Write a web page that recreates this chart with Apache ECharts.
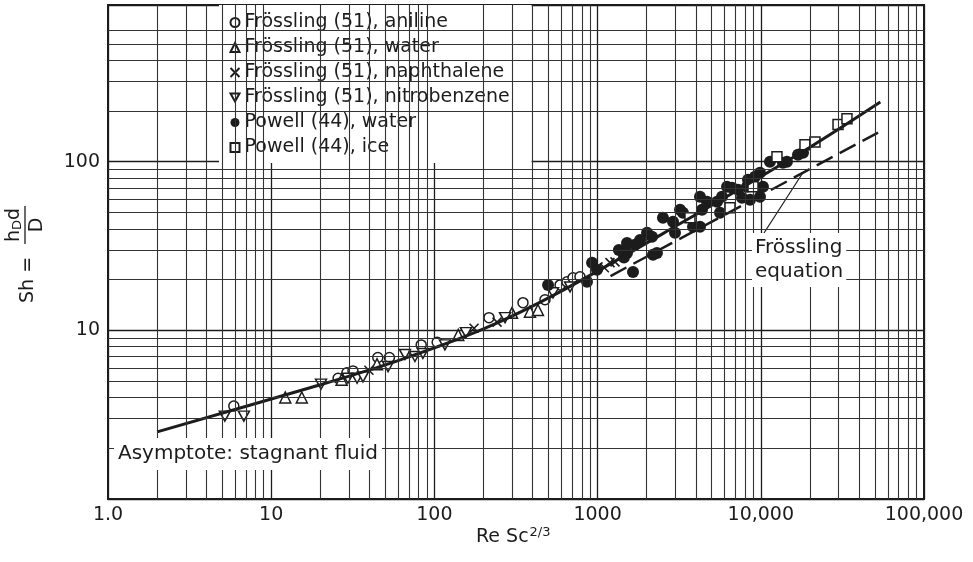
<!DOCTYPE html>
<html><head><meta charset="utf-8">
<script src="https://cdn.jsdelivr.net/npm/echarts@6/dist/echarts.min.js"></script>
<style>html,body{margin:0;padding:0;background:#fff}#c{width:973px;height:562px}</style>
</head><body><div id="c"></div>
<script>
// ---- tick labels ----
const xTickValues = [1, 10, 100, 1000, 10000, 100000];
const xTickLabels = ['1.0', '10', '100', '1000', '10,000', '100,000'];
const yTickValues = [10, 100];
const yTickLabels = ['10', '100'];
// minor graph-paper rulings
const xMinorGrid = [2,3,4,5,6,7,8,9, 20,30,40,50,60,70,80,90, 200,300,400,500,600,700,800,900,
  2000,3000,4000,5000,6000,7000,8000,9000, 20000,30000,40000,50000,60000,70000,80000,90000];
const yMinorGrid = [2,3,4,5,6,7,8,9, 20,30,40,50,60,70,80,90, 200,300,400,500,600];

// ---- data: [Re Sc^(2/3), Sh] ----
const anilineData = [[5.9,3.56],[25.7,5.2],[29.1,5.6],[31.7,5.75],[45,6.9],[53,6.9],[83,8.2],[104,8.5],[216,11.9],
  [349,14.6],[476,15.2],[589,18.6],[649,19.4],[707,20.5],[780,20.8]];
const waterData = [[12.2,4.0],[15.4,4.0],[27,5.1],[44.5,6.3],[140,9.4],[299,12.7],[385,12.9],[431,13.2]];
const naphthaleneData = [[39.7,5.8],[175,10.3],[242,11.2],[1005,23.8],[1100,23.5],[1191,25.2],[1278,25.5]];
const nitrobenzeneData = [[5.2,3.1],[6.8,3.1],[20.2,4.8],[29.5,5.2],[33.6,5.2],[36.5,5.3],[52,6.1],[66,7.2],[76,7.0],[85,7.3],
  [116,8.2],[156,9.7],[271,11.9],[533,16.7],[678,18.1]];
const powellWaterData = [[497,18.6],[861,19.4],[925,25.2],[991,22.9],[1350,30],[1450,27],[1514,33.0],[1514,28.8],[1694,32.2],
  [1648,22.2],[1820,34.4],[2009,37.9],[2155,35.9],[2310,28.8],[2185,28.1],[2515,46.5],[2898,44.1],[2980,37.9],[3199,51.9],
  [3334,49.8],[3843,41.1],[4240,41.1],[4240,62],[4363,51.9],[4680,57.9],[5393,57.9],[5623,49.8],[5785,62.0],[6210,71.1],
  [6663,70.1],[7250,68.2],[7674,61.1],[8228,71.1],[8350,78.2],[8590,59.5],[9210,81.5],[9886,86.1],[9886,62.0],[10310,71.1],
  [11380,100],[13670,98.6],[14460,100],[16900,110],[18140,113]];
const powellIceData = [[3681,46.5],[6477,53.3],[8960,71.1],[12560,107],[18650,126],[21480,131],[29730,166],[33730,180]];

// correlation curve (solid) and Frössling equation (dashed)
const fitX = [2, 20, 60, 200, 600, 3000, 20000, 54000];
const fitY = [2.5, 4.76, 6.62, 10.2, 17.1, 41.4, 122, 226];
const frosslingX = [1200, 10900, 52300];
const frosslingY = [21, 66, 149];
const pointerX = [10300, 18100];
const pointerY = [36.9, 86];

const names = ['Frössling (51), aniline', 'Frössling (51), water', 'Frössling (51), naphthalene',
  'Frössling (51), nitrobenzene', 'Powell (44), water', 'Powell (44), ice'];

const FONT = '"DejaVu Sans", sans-serif';
const INK = '#1c1c1c';
const zip = (a, b) => a.map((v, i) => [v, b[i]]);
const fmt = (vals, labels) => v => {
  for (let i = 0; i < vals.length; i++) if (Math.abs(v - vals[i]) <= vals[i] * 1e-6) return labels[i];
  return '';
};
const hollow = {color: '#fff', borderColor: INK, borderWidth: 1.5, opacity: 1};

const chart = echarts.init(document.getElementById('c'));
chart.setOption({
  animation: false,
  backgroundColor: '#fff',
  grid: {left: 108, top: 5, width: 816, height: 494, show: true, borderColor: INK, borderWidth: 2, backgroundColor: 'transparent'},
  xAxis: {
    type: 'log', logBase: 10, min: 1, max: 100000,
    axisLine: {lineStyle: {color: INK, width: 2}},
    axisTick: {show: false},
    axisLabel: {formatter: fmt(xTickValues, xTickLabels), color: INK, fontFamily: FONT, fontSize: 19, margin: 7},
    splitLine: {show: true, lineStyle: {color: INK, width: 1.3}}
  },
  yAxis: {
    type: 'log', logBase: 10, min: 1, max: 850,
    axisLine: {lineStyle: {color: INK, width: 2}},
    axisTick: {show: false},
    axisLabel: {formatter: fmt(yTickValues, yTickLabels), color: INK, fontFamily: FONT, fontSize: 19, margin: 8},
    splitLine: {show: true, lineStyle: {color: INK, width: 1.3}}
  },
  legend: {
    data: names, orient: 'vertical', left: 219, top: 5,
    padding: [5, 22, 3, 9], itemGap: 0, itemWidth: 9, itemHeight: 9,
    backgroundColor: '#fff', selectedMode: false,
    textStyle: {fontFamily: FONT, fontSize: 19, color: INK, lineHeight: 25}
  },
  series: [
    {type: 'line', data: [], silent: true, z: 1,
      markLine: {silent: true, symbol: ['none', 'none'], label: {show: false}, animation: false,
        lineStyle: {color: '#333', width: 1.1, type: 'solid'},
        emphasis: {disabled: true},
        data: xMinorGrid.map(v => ({xAxis: v})).concat(yMinorGrid.map(v => ({yAxis: v})))}},
    {name: names[0], type: 'scatter', symbol: 'circle', symbolSize: 10, itemStyle: hollow, data: anilineData, z: 3},
    {name: names[1], type: 'scatter', symbol: 'triangle', symbolSize: 11, itemStyle: hollow, data: waterData, z: 3},
    {name: names[2], type: 'scatter', symbol: 'path://M0,0L10,10M10,0L0,10', symbolSize: 9,
      itemStyle: {color: 'none', borderColor: INK, borderWidth: 1.6, opacity: 1}, data: naphthaleneData, z: 3},
    {name: names[3], type: 'scatter', symbol: 'path://M0,0L10,0L5,9Z', symbolSize: [11, 10], itemStyle: hollow, data: nitrobenzeneData, z: 3},
    {name: names[4], type: 'scatter', symbol: 'circle', symbolSize: 12, itemStyle: {color: INK, opacity: 1}, data: powellWaterData, z: 3},
    {name: names[5], type: 'scatter', symbol: 'rect', symbolSize: 10, itemStyle: hollow, data: powellIceData, z: 3},
    {type: 'line', data: zip(fitX, fitY), smooth: 0.3, symbol: 'none', lineStyle: {color: INK, width: 3}, z: 4, silent: true},
    {type: 'line', data: zip(frosslingX, frosslingY), symbol: 'none', lineStyle: {color: INK, width: 2.5, type: [18, 8]}, z: 4, silent: true},
    {type: 'line', data: zip(pointerX, pointerY), symbol: 'none', lineStyle: {color: INK, width: 1.2}, z: 4, silent: true}
  ],
  graphic: [
    {type: 'text', left: 114, top: 438, z: 100,
      style: {text: 'Asymptote: stagnant fluid', font: '20px ' + FONT, fill: INK, backgroundColor: '#fff', padding: [6, 4]}},
    {type: 'text', left: 752, top: 233, z: 100,
      style: {text: 'Frössling\nequation', font: '20px ' + FONT, fill: INK, lineHeight: 24, backgroundColor: '#fff', padding: [3, 3]}},
    {type: 'text', left: 476, top: 526, z: 100,
      style: {text: 'Re Sc{sup|2/3}', font: '19px ' + FONT, fill: INK,
        rich: {sup: {fontSize: 13, fontFamily: FONT, verticalAlign: 'top', padding: [0, 0, 10, 1]}}}},
    {type: 'group', x: 25, y: 303, rotation: Math.PI / 2, z: 100, children: [
      {type: 'text', x: 0, y: 3, z: 100, style: {text: 'Sh =', font: '19px ' + FONT, fill: INK, align: 'left', verticalAlign: 'middle'}},
      {type: 'text', x: 78, y: -11, z: 100, style: {text: 'h{sub|D}d', font: '19px ' + FONT, fill: INK, align: 'center', verticalAlign: 'middle',
        rich: {sub: {fontSize: 13, fontFamily: FONT, verticalAlign: 'bottom', padding: [8, 0, 0, 0]}}}},
      {type: 'line', z: 100, shape: {x1: 59, y1: 0, x2: 97, y2: 0}, style: {stroke: INK, lineWidth: 1.3}},
      {type: 'text', x: 78, y: 12, z: 100, style: {text: 'D', font: '19px ' + FONT, fill: INK, align: 'center', verticalAlign: 'middle'}}
    ]}
  ]
});
</script></body></html>
